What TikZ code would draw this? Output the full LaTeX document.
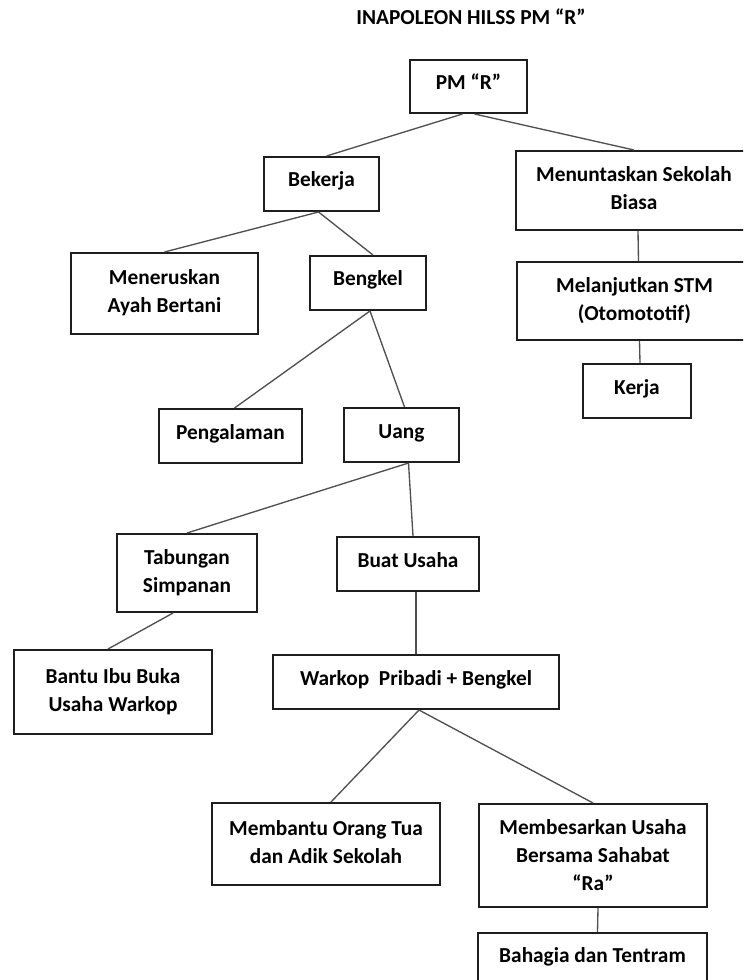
\documentclass[tikz,border=0pt]{standalone}
\usepackage{fontspec}
\setmainfont{Carlito}
\newlength\px
\setlength\px{0.75pt}
\definecolor{garis}{HTML}{1E1E1E}
\definecolor{hubung}{HTML}{505050}
\tikzset{
  huruf/.style={font=\bfseries\fontsize{16}{21}\selectfont},
  kotak/.style={huruf, draw=garis, line width=1.5pt, align=center, inner sep=0pt,
    text height=12.8pt, text depth=8.3pt},
  dua/.style={text height=37pt},
  tiga/.style={text height=60.8pt},
  cabang/.style={draw=hubung, line width=1pt}
}
\begin{document}
\begin{tikzpicture}[x=0.75pt,y=-0.75pt]
      \clip (0,0) rectangle (743,980);
      \fill[white] (0,0) rectangle (743,980);
      \node[huruf] (judul) at (471,17) {INAPOLEON HILSS PM “R”};
      % kolom kiri
      \node[kotak, minimum width=117\px, minimum height=53\px] (pm) at (468.5,86.5) {PM “R”};
      \node[kotak, minimum width=115\px, minimum height=54\px] (bekerja) at (321.5,184) {Bekerja};
      \node[kotak, dua, minimum width=187\px, minimum height=81\px] (meneruskan) at (164.5,293.5) {Meneruskan\\Ayah Bertani};
      \node[kotak, minimum width=116\px, minimum height=54\px] (bengkel) at (368,283) {Bengkel};
      \node[kotak, minimum width=143\px, minimum height=54\px] (pengalaman) at (230.5,436) {Pengalaman};
      \node[kotak, minimum width=115\px, minimum height=54\px] (uang) at (401.5,435) {Uang};
      \node[kotak, dua, minimum width=140\px, minimum height=78\px] (tabungan) at (187,573) {Tabungan\\Simpanan};
      \node[kotak, minimum width=142\px, minimum height=54\px] (usaha) at (408,564) {Buat Usaha};
      \node[kotak, dua, minimum width=198\px, minimum height=84\px] (bantu) at (113,692) {Bantu Ibu Buka\\Usaha Warkop};
      \node[kotak, minimum width=286\px, minimum height=54\px] (warkop) at (416,682) {Warkop~ Pribadi + Bengkel};
      \node[kotak, dua, minimum width=228\px, minimum height=82\px] (membantu) at (326,844) {Membantu Orang Tua\\dan Adik Sekolah};
      \node[kotak, tiga, minimum width=228\px, minimum height=103\px] (membesarkan) at (593,855.5) {Membesarkan Usaha\\Bersama Sahabat\\“Ra”};
      \node[kotak, minimum width=229\px, minimum height=52\px] (bahagia) at (592.5,959) {Bahagia dan Tentram};
      % kolom kanan
      \node[kotak, dua, minimum width=236\px, minimum height=79\px] (menuntaskan) at (634,190.5) {Menuntaskan Sekolah\\Biasa};
      \node[kotak, dua, minimum width=235\px, minimum height=78\px] (stm) at (634.5,301) {Melanjutkan STM\\(Otomototif)};
      \node[kotak, minimum width=108\px, minimum height=54\px] (kerja) at (637,391) {Kerja};
      % garis
      \draw[cabang] ([xshift=-6\px]pm.south) -- ([xshift=5\px]bekerja.north);
      \draw[cabang] ([xshift=6\px]pm.south) -- (menuntaskan.north);
      \draw[cabang] ([xshift=-3\px]bekerja.south) -- (meneruskan.north);
      \draw[cabang] ([xshift=-3\px]bekerja.south) -- ([xshift=5\px]bengkel.north);
      \draw[cabang] ([xshift=4\px]menuntaskan.south) -- ([xshift=4\px]stm.north);
      \draw[cabang] ([xshift=5\px]stm.south) -- ([xshift=3\px]kerja.north);
      \draw[cabang] ([xshift=2\px]bengkel.south) -- ([xshift=4\px]pengalaman.north);
      \draw[cabang] ([xshift=2\px]bengkel.south) -- ([xshift=3\px]uang.north);
      \draw[cabang] ([xshift=7\px]uang.south) -- (tabungan.north);
      \draw[cabang] ([xshift=7\px]uang.south) -- ([xshift=5\px]usaha.north);
      \draw[cabang] ([xshift=-14\px]tabungan.south) -- ([xshift=-5\px]bantu.north);
      \draw[cabang] ([xshift=8\px]usaha.south) -- (warkop.north);
      \draw[cabang] ([xshift=3\px]warkop.south) -- ([xshift=5\px]membantu.north);
      \draw[cabang] ([xshift=3\px]warkop.south) -- (membesarkan.north);
      \draw[cabang] ([xshift=5\px]membesarkan.south) -- ([xshift=5\px]bahagia.north);
\end{tikzpicture}
\end{document}
